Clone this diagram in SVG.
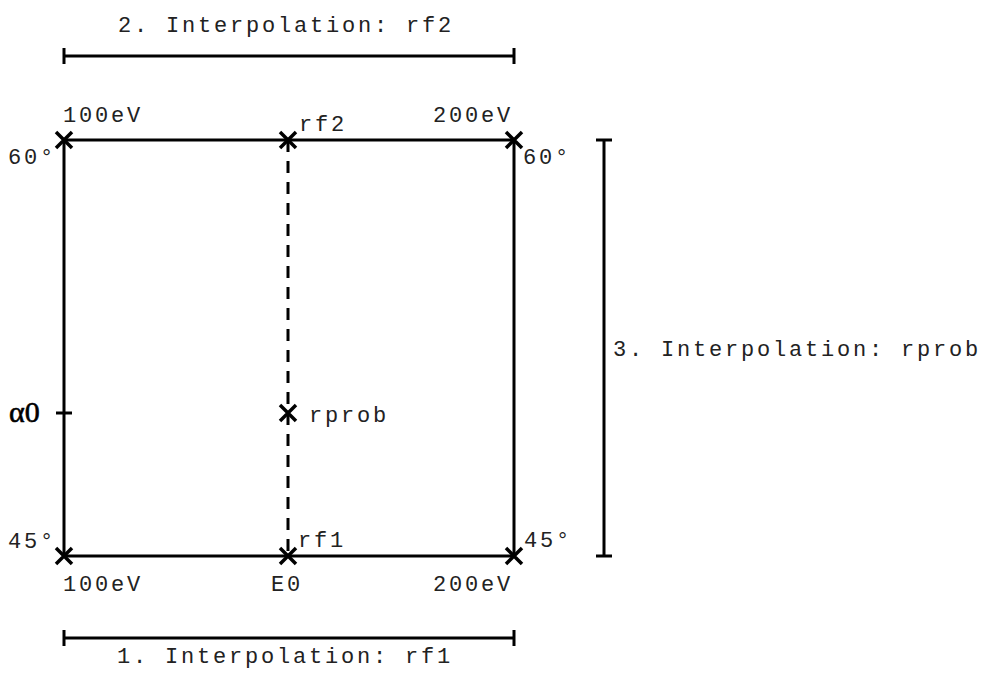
<svg xmlns="http://www.w3.org/2000/svg" width="987" height="686" viewBox="0 0 987 686">
<style>
.t{font-family:"Liberation Mono","Courier New",monospace;font-size:22px;letter-spacing:2.8px;fill:#222}
.ln{stroke:#000;stroke-width:3;fill:none}
.x{stroke:#000;stroke-width:3.5;fill:none}
</style>
<defs>
<path id="cross" d="M-8,-8 L8,8 M8,-8 L-8,8" class="x"/>
</defs>
<rect width="987" height="686" fill="#fff"/>
<g id="connectors">
<path class="ln" d="M64,140 H514 V556 H64 Z"/>
<path class="ln" d="M288,140 V556" stroke-dasharray="12,9"/>
<path class="ln" d="M56,413 H72"/>
<path class="ln" d="M64,56 H514 M64,48 V64 M514,48 V64"/>
<path class="ln" d="M64,638 H514 M64,630 V646 M514,630 V646"/>
<path class="ln" d="M604,140 V556 M596,140 H612 M596,556 H612"/>
</g>
<g id="corner-tl"><use href="#cross" x="64" y="140"/><text class="t" x="63" y="122">100eV</text><text class="t" x="8" y="164">60°</text></g>
<g id="mid-top"><use href="#cross" x="288" y="140"/><text class="t" x="299" y="131">rf2</text></g>
<g id="corner-tr"><use href="#cross" x="514" y="140"/><text class="t" x="433" y="122">200eV</text><text class="t" x="523" y="164">60°</text></g>
<g id="alpha"><text x="9" y="422" style="font-family:'Liberation Serif','Times New Roman',serif;font-size:30px;stroke:#000;stroke-width:0.6;fill:#000">α0</text></g>
<g id="rprob"><use href="#cross" x="288" y="413"/><text class="t" x="309" y="422">rprob</text></g>
<g id="corner-bl"><use href="#cross" x="64" y="556"/><text class="t" x="63" y="591">100eV</text><text class="t" x="8" y="548">45°</text></g>
<g id="mid-bottom"><use href="#cross" x="288" y="556"/><text class="t" x="298" y="547">rf1</text><text class="t" x="271" y="591">E0</text></g>
<g id="corner-br"><use href="#cross" x="514" y="556"/><text class="t" x="433" y="591">200eV</text><text class="t" x="524" y="547">45°</text></g>
<g id="label-top"><text class="t" x="118" y="32">2. Interpolation: rf2</text></g>
<g id="label-bottom"><text class="t" x="117" y="663">1. Interpolation: rf1</text></g>
<g id="label-right"><text class="t" x="613" y="356">3. Interpolation: rprob</text></g>
</svg>
